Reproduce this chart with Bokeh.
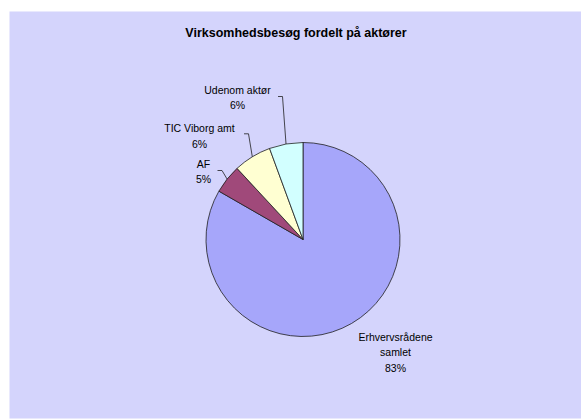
import math
from bokeh.plotting import figure
from bokeh.models import Range1d
from bokeh.core.properties import value
from bokeh.embed import file_html
from bokeh.resources import INLINE

# ---- data ----
categories = ["Erhvervsrådene samlet", "AF", "TIC Viborg amt", "Udenom aktør"]
shares = [83.3, 4.8, 6.3, 5.6]
colors = ["#A6A6FA", "#A0497A", "#FFFFD2", "#D2FFFF"]

# ---- layout (picture pixel coordinates) ----
W, H = 581, 419
LEFT, TOP, BOTTOM = 9, 11, 1
X0, X1 = LEFT, W                  # frame in px
Y0, Y1 = TOP, H - BOTTOM

def py(y_px):
    return H - y_px                 # px -> data y (1:1 scale)

CX, CY, R = 302.5, 239.0, 97.0     # pie center / radius in px
# label block: x center, first line y (px); elbow point for leader (None = no leader)
label_pos = [(395.0, 336.0), (203.0, 163.0), (199.0, 127.5), (237.0, 89.0)]
elbows = [None, (221.5, 170.0), (248.0, 133.3), (282.0, 96.0)]
LINE_GAP = 15.7

p = figure(width=W, height=H, output_backend="svg", toolbar_location=None,
           x_range=Range1d(X0, X1), y_range=Range1d(py(Y1), py(Y0)),
           x_axis_location=None, y_axis_location=None)
p.min_border = 0
p.min_border_left = LEFT
p.min_border_top = TOP
p.min_border_bottom = BOTTOM
p.border_fill_color = "white"
p.background_fill_color = "#D4D4FC"
p.outline_line_color = None
p.xgrid.visible = False
p.ygrid.visible = False

total = sum(shares)
starts, ends, mids = [], [], []
a = math.pi / 2
for s in shares:
    frac = s / total
    starts.append(a)
    ends.append(a - 2 * math.pi * frac)
    mids.append(a - math.pi * frac)
    a -= 2 * math.pi * frac

p.wedge(x=[CX] * len(shares), y=[py(CY)] * len(shares), radius=R,
        start_angle=starts, end_angle=ends, direction="clock",
        fill_color=colors, line_color="#202020", line_width=0.8)

# leader lines
for m, el in zip(mids, elbows):
    if el is None:
        continue
    ex = CX + R * math.cos(m)
    ey = py(CY) + R * math.sin(m)
    p.line([el[0] - 4.5, el[0], ex], [py(el[1]), py(el[1]), ey],
           line_color="#202020", line_width=0.8)

# labels
for cat, s, (lx, ly) in zip(categories, shares, label_pos):
    pct = f"{round(s / total * 100)}%"
    if cat == "Erhvervsrådene samlet":
        lines = ["Erhvervsrådene", "samlet", pct]
    else:
        lines = [cat, pct]
    for i, t in enumerate(lines):
        p.text(x=[lx], y=[py(ly + i * LINE_GAP)], text=[t],
               text_align="center", text_baseline="middle",
               text_font=value("Liberation Sans"), text_font_size="10.5px",
               text_color="#000000")

# title
p.text(x=[295.5], y=[py(32.7)], text=["Virksomhedsbesøg fordelt på aktører"],
       text_align="center", text_baseline="middle",
       text_font=value("Liberation Sans"), text_font_size="12.5px",
       text_font_style="bold", text_color="#000000")

open("out.html", "w").write(file_html(p, INLINE))
